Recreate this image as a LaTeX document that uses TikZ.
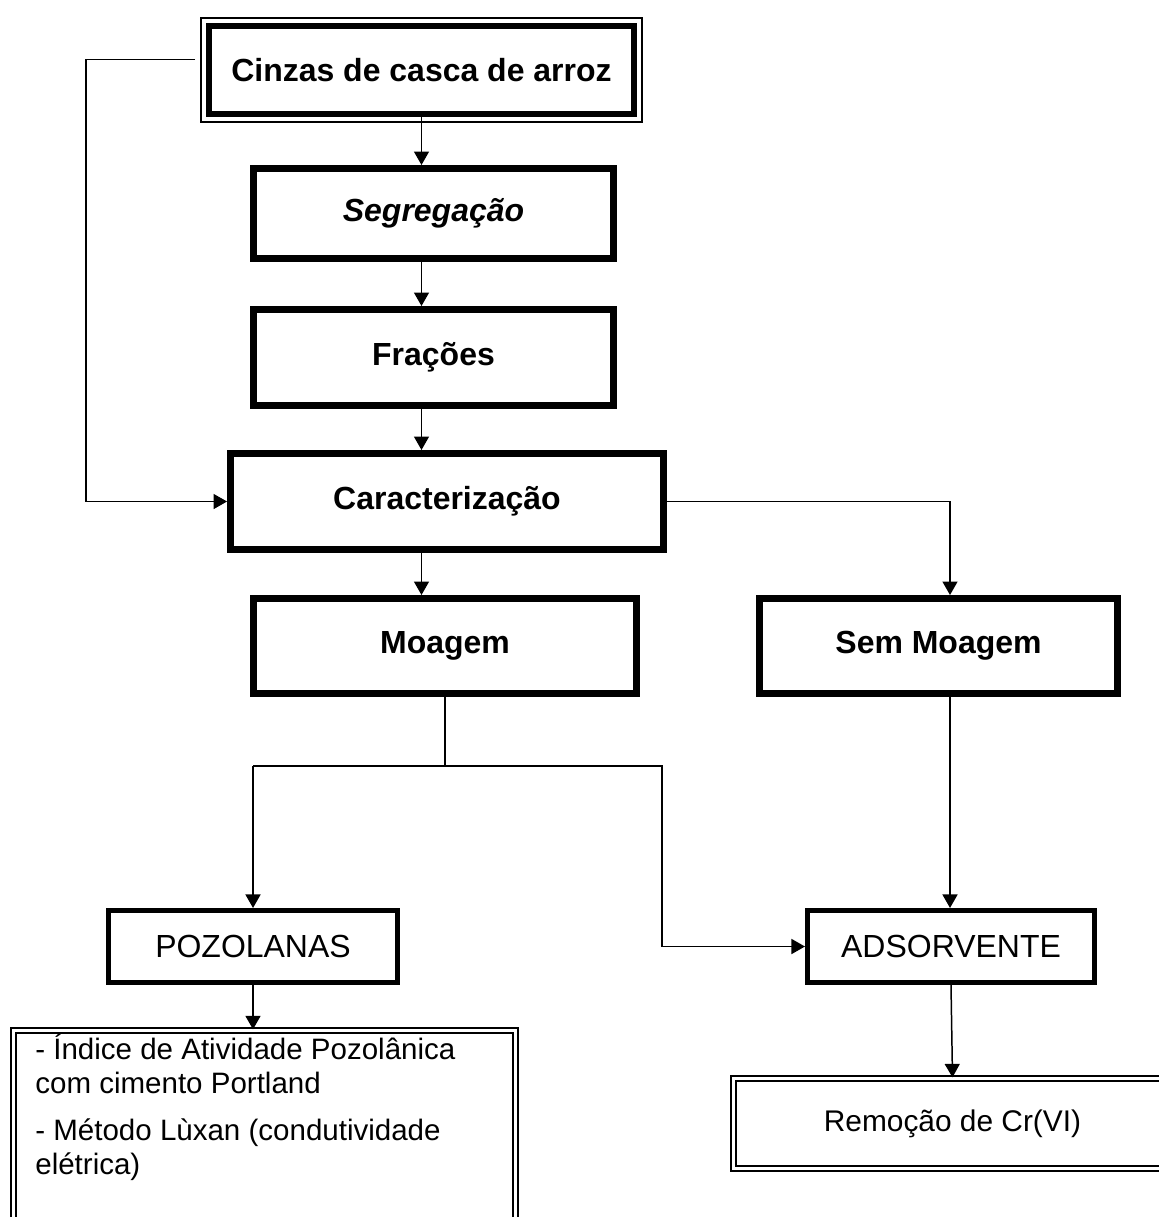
\documentclass[tikz,border=0pt]{standalone}
\usepackage{fontspec}
\setmainfont{Liberation Sans}
\usetikzlibrary{arrows.meta}

\begin{document}
\begin{tikzpicture}[x=0.02cm, y=-0.02cm,
    every node/.style={inner sep=0pt},
    thinline/.style={black, line width=0.85pt},
    arr/.style={thinline, -{Triangle[length=0.27cm, width=0.3cm]}},
    heavybox/.style={draw, black, line width=3.7pt, font=\fontsize{18.2}{22}\selectfont\bfseries},
    midbox/.style={draw, black, line width=2.9pt, font=\fontsize{18.2}{22}\selectfont},
    twinbox/.style={draw, black, line width=1.3pt, double, double distance=1.4pt}]
    \useasboundingbox (0,0) rectangle (1159,1217);
    \node [heavybox, minimum width=8.5cm, minimum height=1.76cm] (cinzas) at (421.5,70) {Cinzas de casca de arroz};
    \draw [thinline] ([shift={(-5,-5)}]cinzas.north west) rectangle ([shift={(5,5)}]cinzas.south east);
    \node [heavybox, minimum width=7.21cm, minimum height=1.81cm] (segreg) at (433.5,213.5) {\itshape Segregação};
    \node [heavybox, minimum width=7.21cm, minimum height=1.93cm] (frac) at (433.5,357.5) {Frações};
    \node [heavybox, minimum width=8.67cm, minimum height=1.93cm] (caract) at (447,501.5) {Caracterização};
    \node [heavybox, minimum width=7.67cm, minimum height=1.91cm] (moagem) at (445,646) {Moagem};
    \node [heavybox, minimum width=7.17cm, minimum height=1.91cm] (semmoag) at (938.5,646) {Sem Moagem};
    \node [midbox, minimum width=5.78cm, minimum height=1.44cm] (pozol) at (253,946.5) {POZOLANAS};
    \node [midbox, minimum width=5.74cm, minimum height=1.44cm] (adsorv) at (951,946.5) {ADSORVENTE};
    \node [twinbox, minimum width=10.04cm, minimum height=4.59cm] (lista) at (264.5,1145.25) {};
    \node [anchor=north west, align=left, font=\fontsize{16.8}{19}\selectfont] (listtext) at (35,1034)
        {- Índice de Atividade Pozolânica\\com cimento Portland\\[8pt]- Método Lùxan (condutividade\\elétrica)};
    \node [twinbox, minimum width=8.76cm, minimum height=1.8cm, font=\fontsize{17}{20}\selectfont] (remocao) at (952.5,1123.5) {Remoção de Cr(VI)};
    \coordinate (cinzasedge) at (195,59.5);
    \coordinate (topleft) at (86,59.5);
    \coordinate (turnright) at (950,501.5);
    \coordinate (split) at (662,766);
    \draw [arr] (cinzasedge) -- (topleft) |- (caract.west);
    \draw [arr] (cinzas.south) -- (cinzas.south |- segreg.north);
    \draw [arr] (cinzas.south |- segreg.south) -- (cinzas.south |- frac.north);
    \draw [arr] (cinzas.south |- frac.south) -- (cinzas.south |- caract.north);
    \draw [arr] (cinzas.south |- caract.south) -- (cinzas.south |- moagem.north);
    \draw [arr] (caract.east) -- (turnright) -- (turnright |- semmoag.north);
    \draw [thinline] (moagem.south) -- (moagem.south |- split);
    \draw [arr] (pozol.north |- split) -- (pozol.north);
    \draw [arr] (pozol.north |- split) -- (split) |- (adsorv.west);
    \draw [arr] (turnright |- semmoag.south) -- (turnright |- adsorv.north);
    \draw [arr] (pozol.south) -- (pozol.south |- lista.north);
    \draw [arr] (adsorv.south) -- (remocao.north);
\end{tikzpicture}
\end{document}
